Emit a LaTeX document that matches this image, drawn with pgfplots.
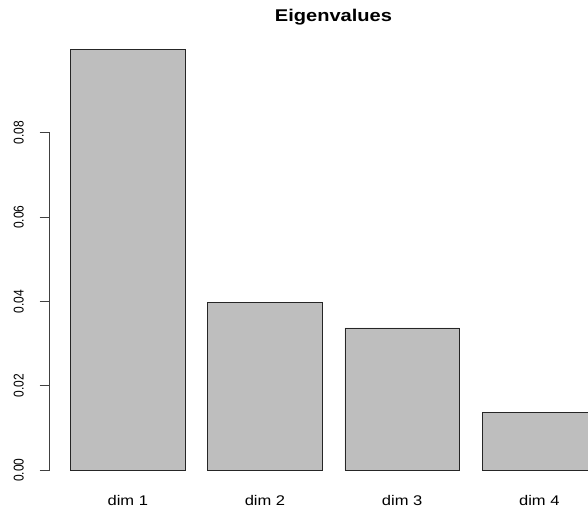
\documentclass[border=0pt]{standalone}
\usepackage{fontspec}
\setmainfont{Liberation Sans}
\usepackage{pgfplots}
\pgfplotsset{compat=1.18}
\definecolor{bargrey}{HTML}{BEBEBE}
\begin{document}
\begin{tikzpicture}[x=1pt,y=1pt]
\useasboundingbox (0,0) rectangle (588,510);
\begin{axis}[
  at={(49.6pt,23.1pt)}, anchor=south west,
  scale only axis, width=538.4pt, height=454.4pt,
  xmin=0.016, xmax=4.726, ymin=-0.004, ymax=0.1038,
  clip mode=individual,
  axis x line*=bottom, axis y line*=left,
  x axis line style={draw=none}, y axis line style={draw=none},
  xtick={0.7,1.9,3.1,4.3},
  xticklabels={dim 1,dim 2,dim 3,dim 4},
  xtick style={draw=none},
  xticklabel style={font=\fontsize{14}{16}\selectfont, anchor=base, yshift=-8.5pt, xscale=1.18},
  ytick={0,0.02,0.04,0.06,0.08},
  yticklabels={0.00,0.02,0.04,0.06,0.08},
  ytick style={draw=black!75, line width=0.8pt},
  tick align=outside, major tick length=10pt,
  yticklabel style={font=\fontsize{12}{14}\selectfont, anchor=base, xshift=-16pt, rotate=90, yscale=1.18},
  ybar, bar width=1,
]
\addplot[fill=bargrey, draw=black!85, line width=0.8pt] coordinates {
  (0.7,0.0998) (1.9,0.0397) (3.1,0.0337) (4.3,0.01376)
};
% R draws the y axis line only over the tick range
\draw[black!75, line width=0.8pt] (axis cs:0.016,0) -- (axis cs:0.016,0.08);
\end{axis}
\node[anchor=base, font=\bfseries\fontsize{17}{20}\selectfont, xscale=1.18] at (333.5,488.5) {Eigenvalues};
\end{tikzpicture}
\end{document}
